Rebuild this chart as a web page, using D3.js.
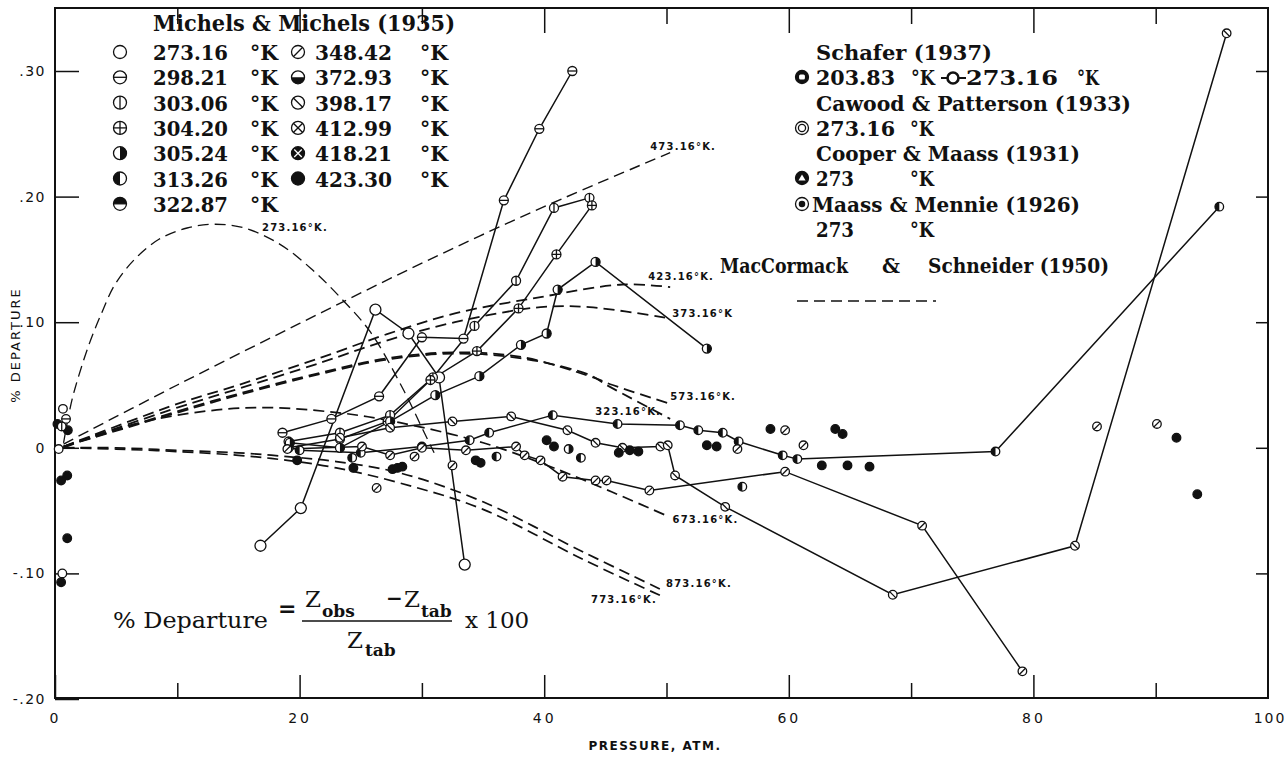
<!DOCTYPE html>
<html>
<head>
<meta charset="utf-8">
<script src="https://cdn.jsdelivr.net/npm/d3@7"></script>
<style>
    body { margin: 0; background: #fff; }
    svg { display: block; }
    text { white-space: pre; }
</style>
</head>
<body>
<svg id="chart" width="1288" height="770"></svg>
<script>
// Michels & Michels (1935) isotherms, [pressure atm, % departure]
let m27316 = [[16.8, -0.078], [20.1, -0.048], [26.2, 0.110], [28.9, 0.091], [31.4, 0.056], [33.5, -0.093]];
let m29821 = [[18.6, 0.012], [22.6, 0.023], [26.5, 0.041], [30.0, 0.088], [33.4, 0.087], [36.7, 0.197], [39.6, 0.254], [42.3, 0.300]];
let m30306 = [[19.1, 0.005], [23.3, 0.012], [27.4, 0.026], [30.9, 0.056], [34.3, 0.097], [37.7, 0.133], [40.8, 0.191], [43.7, 0.199]];
let m30420 = [[19.1, 0.000], [23.3, 0.007], [27.2, 0.021], [30.7, 0.054], [34.5, 0.077], [37.9, 0.111], [41.0, 0.154], [43.9, 0.193]];
let m30524 = [[19.2, 0.004], [23.3, 0.000], [27.4, 0.021], [31.1, 0.042], [34.7, 0.057], [38.1, 0.082], [40.2, 0.091], [41.1, 0.126], [44.2, 0.148], [53.3, 0.079]];
let m31326 = [[20.0, -0.002], [25.0, -0.004], [30.0, 0.001], [33.9, 0.006], [35.5, 0.012], [40.7, 0.026], [46.0, 0.019], [51.1, 0.018], [52.6, 0.014], [54.6, 0.012], [55.9, 0.005], [59.5, -0.006], [60.7, -0.009], [76.9, -0.003], [95.2, 0.192]];
let m34842 = [[19.0, -0.001], [25.1, 0.001], [27.4, -0.006], [30.0, 0.000], [33.6, -0.002], [37.7, 0.001], [38.4, -0.006], [39.7, -0.010], [41.5, -0.023], [44.2, -0.026], [45.1, -0.026], [48.6, -0.034], [59.7, -0.019], [70.9, -0.062], [79.1, -0.178]];
let m39817 = [[23.3, 0.008], [27.4, 0.016], [32.5, 0.021], [37.3, 0.025], [41.9, 0.014], [44.2, 0.004], [46.4, 0.000], [49.5, 0.001], [50.1, 0.002], [50.7, -0.022], [54.8, -0.047], [68.5, -0.117], [83.4, -0.078], [95.8, 0.330]];

// loose points, grouped by symbol
let scatFilled = [[0.2, 0.019], [1.05, 0.014], [1.0, -0.022], [0.5, -0.026], [1.0, -0.072], [0.5, -0.107],
    [19.8, -0.010], [24.4, -0.016], [27.6, -0.017], [28.0, -0.016], [28.4, -0.015], [34.4, -0.010], [34.8, -0.012],
    [40.2, 0.006], [40.8, 0.001], [46.1, -0.004], [47.0, -0.002], [47.7, -0.003], [53.3, 0.002], [54.1, 0.001],
    [58.5, 0.015], [63.8, 0.015], [64.4, 0.011], [62.7, -0.014], [64.8, -0.014], [66.6, -0.015], [91.7, 0.008], [93.4, -0.037]];
let scatOpen = [[0.65, 0.031], [0.3, -0.001], [0.6, -0.100]];
let scatHbar = [[0.9, 0.023]];
let scatVbar = [[0.55, 0.017]];
let scatRhalf = [[42.0, -0.001]];
let scatLhalf = [[24.3, -0.008], [36.1, -0.007], [43.0, -0.008], [56.2, -0.031]];
let scatSlash = [[26.3, -0.032], [29.4, -0.007], [32.5, -0.014], [55.8, -0.001], [59.7, 0.014], [61.2, 0.002], [85.2, 0.017], [90.1, 0.019]];

// MacCormack & Schneider (1950) curves
let ms27316 = [[0.7, 0.004], [1.2, 0.030], [1.6, 0.046], [2.7, 0.080], [3.8, 0.107], [4.9, 0.130], [6.5, 0.150], [8.5, 0.166], [10.8, 0.175], [13.0, 0.178], [15.5, 0.175], [18.4, 0.162], [20.9, 0.143], [23.3, 0.120], [25.8, 0.092], [28.5, 0.046], [30.2, 0.012], [31.0, -0.004]];
let ms32316 = [[0.7, 0.001], [10, 0.028], [15, 0.042], [21.8, 0.059], [27, 0.070], [32.7, 0.075], [38.3, 0.071], [43.7, 0.058], [45.1, 0.050], [50.3, 0.023]];
let ms37316 = [[0.7, 0.001], [10, 0.032], [15, 0.047], [21.8, 0.068], [27, 0.085], [32.7, 0.100], [39.7, 0.112], [43.7, 0.112], [50.3, 0.103]];
let ms42316 = [[0.7, 0.001], [10, 0.035], [15, 0.050], [21.8, 0.072], [27, 0.090], [32.7, 0.107], [39.7, 0.120], [46.4, 0.130], [50.3, 0.128]];
let ms47316 = [[0.7, 0.003], [10, 0.050], [20, 0.099], [30, 0.147], [40, 0.192], [50.3, 0.235]];
let ms57316 = [[0.7, 0.001], [10, 0.029], [15, 0.043], [21.8, 0.060], [27, 0.071], [32.7, 0.076], [38.3, 0.072], [43.7, 0.057], [45.6, 0.050], [50.3, 0.035]];
let ms67316 = [[0.7, 0.000], [5, 0.015], [10, 0.026], [16.4, 0.032], [23.1, 0.028], [28.2, 0.020], [35, 0.004], [41.3, -0.018], [45.5, -0.035], [50.0, -0.054]];
let ms77316 = [[0.7, 0.000], [5, -0.001], [10, -0.003], [15, -0.006], [19, -0.010], [23, -0.016], [28.2, -0.028], [35, -0.049], [43.2, -0.089], [49.8, -0.119]];
let ms87316 = [[0.7, 0.000], [5, 0.000], [10, -0.002], [15, -0.004], [19, -0.007], [23, -0.011], [28.2, -0.020], [35, -0.043], [43.2, -0.083], [49.8, -0.114]];

let xMajor = [0, 20, 40, 60, 80];
let xMinor = [10, 30, 50, 70, 90];
let yTicks = [0.3, 0.2, 0.1, 0, -0.1, -0.2];
let yLabels = [".30", ".20", ".10", "0", "-.10", "-.20"];
let michelsTemps1 = ["273.16", "298.21", "303.06", "304.20", "305.24", "313.26", "322.87"];
let michelsTemps2 = ["348.42", "372.93", "398.17", "412.99", "418.21", "423.30"];

const ink = "#111";
let svg = d3.select("#chart");
let frameL = 55, frameR = 1268, frameT = 8, frameB = 698;

let x = d3.scaleLinear().domain([0, 100]).range([55, 1278]);
let y = d3.scaleLinear().domain([-0.2, 0.3]).range([699, 71]);

// frame
svg.append("rect")
    .attr("x", frameL).attr("y", frameT)
    .attr("width", frameR - frameL).attr("height", frameB - frameT)
    .attr("fill", "none").attr("stroke", ink).attr("stroke-width", 2);

function styleAxis(g, size) {
    g.select(".domain").remove();
    g.selectAll(".tick line").attr("stroke", ink).attr("stroke-width", 1.5);
    g.selectAll(".tick text")
        .attr("fill", ink)
        .attr("font-family", "'DejaVu Sans', sans-serif")
        .attr("font-size", size)
        .attr("letter-spacing", 3);
}

// bottom axis, ticks pointing in
svg.append("g").attr("transform", `translate(0,${frameB})`)
    .call(d3.axisBottom(x).tickValues(xMajor).tickSize(-23).tickPadding(15).tickFormat(d3.format("d")))
    .call(g => styleAxis(g, 14));
svg.append("g").attr("transform", `translate(0,${frameB})`)
    .call(d3.axisBottom(x).tickValues(xMinor).tickSize(-15).tickFormat(""))
    .call(g => styleAxis(g, 14));
svg.append("text")
    .attr("x", frameR + 2).attr("y", frameB + 25)
    .attr("text-anchor", "middle")
    .attr("font-family", "'DejaVu Sans', sans-serif").attr("font-size", 14)
    .attr("letter-spacing", 2).attr("fill", ink)
    .text("100");

// top ticks
svg.append("g").attr("transform", `translate(0,${frameT})`)
    .call(d3.axisBottom(x).tickValues(xMajor.slice(1)).tickSize(25).tickFormat(""))
    .call(g => styleAxis(g, 14));
svg.append("g").attr("transform", `translate(0,${frameT})`)
    .call(d3.axisBottom(x).tickValues(xMinor).tickSize(16).tickFormat(""))
    .call(g => styleAxis(g, 14));

// left and right axes
svg.append("g").attr("transform", `translate(${frameL},0)`)
    .call(d3.axisLeft(y).tickValues(yTicks).tickSize(-24).tickPadding(9).tickFormat((d, i) => yLabels[i]))
    .call(g => styleAxis(g, 14))
    .call(g => g.selectAll(".tick text").attr("letter-spacing", 1.5));
svg.append("g").attr("transform", `translate(${frameR},0)`)
    .call(d3.axisRight(y).tickValues(yTicks.slice(0, 5)).tickSize(-12).tickFormat(""))
    .call(g => styleAxis(g, 14));

// axis titles
svg.append("text")
    .attr("x", 655).attr("y", 750)
    .attr("text-anchor", "middle")
    .attr("font-family", "'DejaVu Sans', sans-serif").attr("font-size", 12).attr("font-weight", "bold")
    .attr("letter-spacing", 1.5).attr("fill", ink)
    .text("PRESSURE, ATM.");
svg.append("text")
    .attr("transform", "translate(20,345) rotate(-90)")
    .attr("text-anchor", "middle")
    .attr("font-family", "'DejaVu Sans', sans-serif").attr("font-size", 13)
    .attr("letter-spacing", 2).attr("fill", ink)
    .text("% DEPARTURE");

// dashed MacCormack & Schneider curves
let curve = d3.line().x(d => x(d[0])).y(d => y(d[1])).curve(d3.curveCatmullRom.alpha(0.5));
let dashed = [
    {data: ms27316, label: "273.16°K.", at: "peak", dx: 48, dy: 4, w: 1.3},
    {data: ms47316, label: "473.16°K.", at: "end", dx: -20, dy: -6, w: 1.4},
    {data: ms42316, label: "423.16°K.", at: "end", dx: -22, dy: -10, w: 1.8},
    {data: ms37316, label: "373.16°K", at: "end", dx: 2, dy: -4, w: 1.8},
    {data: ms57316, label: "573.16°K.", at: "end", dx: 0, dy: -7, w: 1.8},
    {data: ms32316, label: "323.16°K.", at: "end", dx: -75, dy: -7, w: 1.8},
    {data: ms67316, label: "673.16°K.", at: "end", dx: 6, dy: 4, w: 1.7},
    {data: ms87316, label: "873.16°K.", at: "end", dx: 2, dy: -7, w: 1.7},
    {data: ms77316, label: "773.16°K.", at: "end", dx: -73, dy: 3, w: 1.7}
];
let curveG = svg.append("g");
dashed.forEach(c => {
    curveG.append("path")
        .attr("d", curve(c.data))
        .attr("fill", "none").attr("stroke", ink)
        .attr("stroke-width", c.w).attr("stroke-dasharray", "11,6");
    let p = c.at === "end" ? c.data[c.data.length - 1] : c.data.reduce((a, b) => b[1] > a[1] ? b : a);
    curveG.append("text")
        .attr("x", x(p[0]) + c.dx).attr("y", y(p[1]) + c.dy)
        .attr("dominant-baseline", "middle")
        .attr("font-family", "'DejaVu Sans', sans-serif").attr("font-size", 10).attr("font-weight", "bold")
        .attr("letter-spacing", 1.2).attr("fill", ink)
        .text(c.label);
});

// symbol drawing
function marker(g, type, r) {
    let k = r * 0.72;
    let ring = fill => g.append("circle").attr("r", r).attr("fill", fill)
        .attr("stroke", ink).attr("stroke-width", type === "thick" ? 2.6 : 1.3);
    let seg = (x1, y1, x2, y2, col) => g.append("line")
        .attr("x1", x1).attr("y1", y1).attr("x2", x2).attr("y2", y2)
        .attr("stroke", col || ink).attr("stroke-width", 1.3);
    let half = d => g.append("path").attr("d", d).attr("fill", ink);
    if (type === "filled" || type === "fcross" || type === "sq" || type === "tri") ring(ink);
    else ring("#fff");
    switch (type) {
        case "hbar": seg(-r, 0, r, 0); break;
        case "vbar": seg(0, -r, 0, r); break;
        case "plus": seg(-r, 0, r, 0); seg(0, -r, 0, r); break;
        case "rhalf": half(`M0,${-r}A${r},${r} 0 0 1 0,${r}Z`); break;
        case "lhalf": half(`M0,${-r}A${r},${r} 0 0 0 0,${r}Z`); break;
        case "thalf": half(`M${-r},0A${r},${r} 0 0 1 ${r},0Z`); seg(-r, 0, r, 0); break;
        case "bhalf": half(`M${-r},0A${r},${r} 0 0 0 ${r},0Z`); break;
        case "slash": seg(-k, k, k, -k); break;
        case "bslash": seg(-k, -k, k, k); break;
        case "cross": seg(-k, k, k, -k); seg(-k, -k, k, k); break;
        case "fcross": seg(-k * 0.8, k * 0.8, k * 0.8, -k * 0.8, "#fff"); seg(-k * 0.8, -k * 0.8, k * 0.8, k * 0.8, "#fff"); break;
        case "double": g.append("circle").attr("r", r * 0.55).attr("fill", "none").attr("stroke", ink).attr("stroke-width", 1.3); break;
        case "dot": g.append("circle").attr("r", r * 0.5).attr("fill", ink); break;
        case "sq": g.append("rect").attr("x", -r * 0.45).attr("y", -r * 0.4).attr("width", r * 0.9).attr("height", r * 0.8)
            .attr("rx", 1.5).attr("fill", "#fff"); break;
        case "tri": g.append("path").attr("d", `M0,${-r * 0.55}L${r * 0.55},${r * 0.4}L${-r * 0.55},${r * 0.4}Z`).attr("fill", "#fff"); break;
    }
}

// Michels lines with their symbols
let line = d3.line().x(d => x(d[0])).y(d => y(d[1]));
let michelsLines = [
    {data: m27316, sym: "open", r: 5.5},
    {data: m29821, sym: "hbar", r: 4.5},
    {data: m30306, sym: "vbar", r: 4.5},
    {data: m30420, sym: "plus", r: 4.5},
    {data: m30524, sym: "rhalf", r: 4.5},
    {data: m31326, sym: "lhalf", r: 4.3},
    {data: m34842, sym: "slash", r: 4.3},
    {data: m39817, sym: "bslash", r: 4.3}
];
let lineG = svg.append("g");
michelsLines.forEach(s => {
    lineG.append("path")
        .attr("d", line(s.data))
        .attr("fill", "none").attr("stroke", ink).attr("stroke-width", 1.5);
});
let markG = svg.append("g");
michelsLines.forEach(s => {
    s.data.forEach(d => {
        let g = markG.append("g").attr("transform", `translate(${x(d[0])},${y(d[1])})`);
        marker(g, s.sym, s.r);
    });
});
let loose = [
    {data: scatFilled, sym: "filled"}, {data: scatOpen, sym: "open"}, {data: scatHbar, sym: "hbar"},
    {data: scatVbar, sym: "vbar"}, {data: scatRhalf, sym: "rhalf"}, {data: scatLhalf, sym: "lhalf"},
    {data: scatSlash, sym: "slash"}
];
loose.forEach(s => {
    s.data.forEach(d => {
        let g = markG.append("g").attr("transform", `translate(${x(d[0])},${y(d[1])})`);
        marker(g, s.sym, 4.3);
    });
});

// legends
function tw(str, px, py, w, size) {
    let t = svg.append("text")
        .attr("x", px).attr("y", py)
        .attr("font-family", "'DejaVu Serif', serif").attr("font-weight", "bold")
        .attr("font-size", size || 21).attr("fill", ink)
        .text(str);
    if (w) t.attr("textLength", w).attr("lengthAdjust", "spacingAndGlyphs");
    return t;
}
function legendMark(type, px, py, r) {
    let g = svg.append("g").attr("transform", `translate(${px},${py})`);
    marker(g, type, r || 6.5);
}

let sym1 = ["open", "hbar", "vbar", "plus", "rhalf", "lhalf", "thalf"];
let sym2 = ["slash", "bhalf", "bslash", "cross", "fcross", "filled"];
tw("Michels & Michels (1935)", 153, 31, 302, 22);
michelsTemps1.forEach((t, i) => {
    let by = 60 + i * 25.3;
    legendMark(sym1[i], 120, by - 8);
    tw(t, 153, by, 75);
    tw("°K", 250, by, 28);
});
michelsTemps2.forEach((t, i) => {
    let by = 60 + i * 25.3;
    legendMark(sym2[i], 298, by - 8);
    tw(t, 315, by, 77);
    tw("°K", 420, by, 28);
});

tw("Schafer (1937)", 816, 60, 176);
legendMark("sq", 802, 77);
tw("203.83", 816, 85, 79);
tw("°K", 911, 85, 24);
svg.append("line").attr("x1", 941).attr("x2", 966).attr("y1", 78).attr("y2", 78)
    .attr("stroke", ink).attr("stroke-width", 2);
legendMark("thick", 953, 78, 5.5);
tw("273.16", 966, 85, 92);
tw("°K", 1077, 85, 22);
tw("Cawood & Patterson (1933)", 816, 111, 315);
legendMark("double", 802, 128);
tw("273.16", 816, 136, 79);
tw("°K", 910, 136, 24);
tw("Cooper & Maass (1931)", 816, 161, 264);
legendMark("tri", 802, 178);
tw("273", 816, 186, 38);
tw("°K", 910, 186, 24);
legendMark("dot", 802, 204);
tw("Maass & Mennie (1926)", 812, 212, 268);
tw("273", 816, 237, 38);
tw("°K", 910, 237, 24);
tw("MacCormack", 720, 273, 128);
tw("&", 882, 273, 18);
tw("Schneider (1950)", 928, 273, 181);
svg.append("line").attr("x1", 797).attr("x2", 936).attr("y1", 301).attr("y2", 301)
    .attr("stroke", ink).attr("stroke-width", 1.6).attr("stroke-dasharray", "11,6");

// formula
let serif = "'DejaVu Serif', serif";
function ft(str, px, py, size, weight) {
    return svg.append("text").attr("x", px).attr("y", py)
        .attr("font-family", serif).attr("font-size", size)
        .attr("font-weight", weight || "normal").attr("fill", ink).text(str);
}
ft("% Departure", 113, 628, 23).attr("textLength", 155).attr("lengthAdjust", "spacingAndGlyphs");
ft("=", 278, 616, 22, "bold");
ft("Z", 305, 607, 23);
ft("obs", 322, 617, 17, "bold");
ft("−", 386, 605, 20, "bold");
ft("Z", 404, 607, 23);
ft("tab", 421, 617, 17, "bold");
svg.append("line").attr("x1", 302).attr("x2", 452).attr("y1", 621).attr("y2", 621)
    .attr("stroke", ink).attr("stroke-width", 1.6);
ft("Z", 347, 648, 23);
ft("tab", 365, 656, 17, "bold");
ft("x 100", 465, 628, 23);
</script>
</body>
</html>
